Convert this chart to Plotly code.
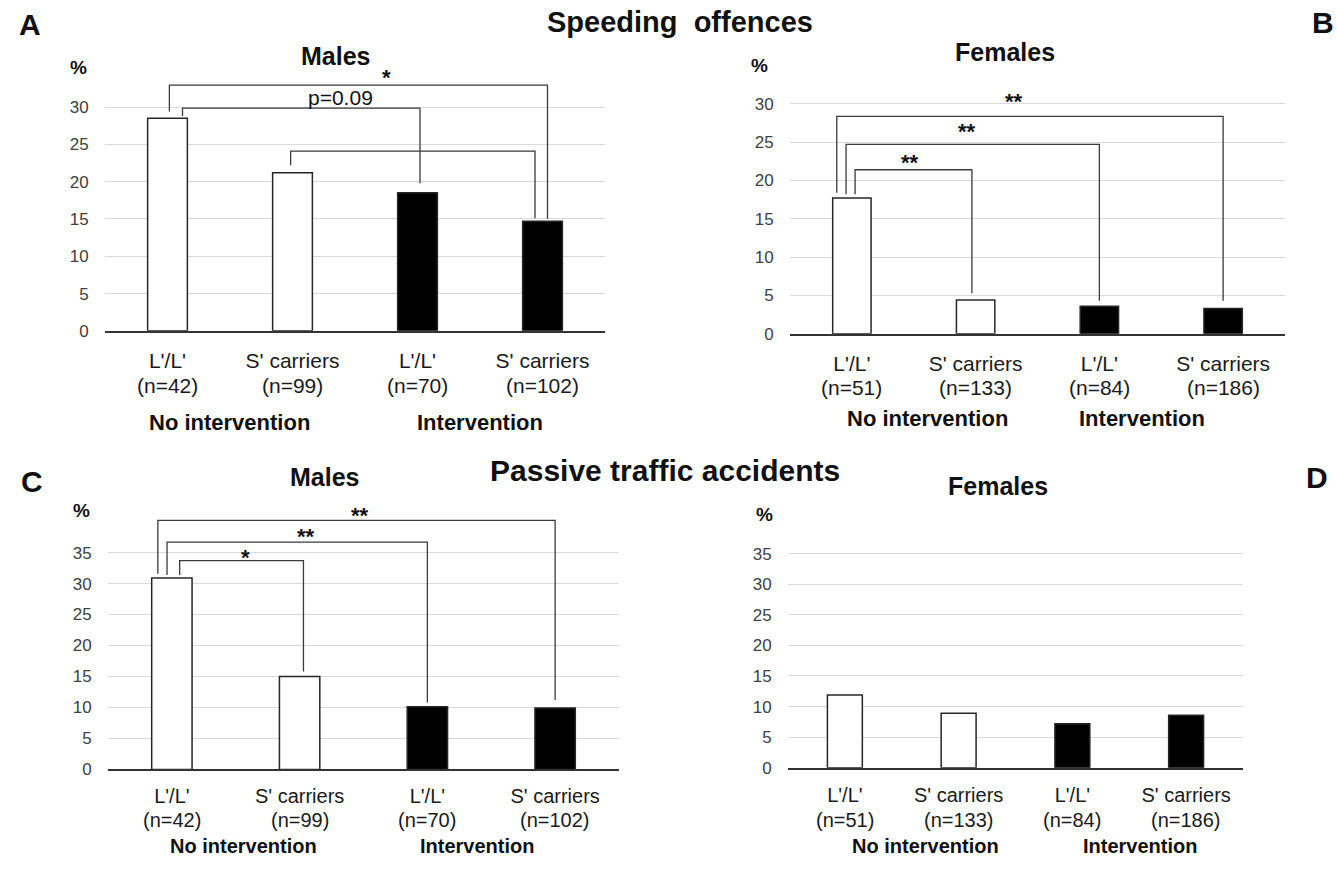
import plotly.graph_objects as go

W, H = 1337, 873

# ---------------- data ----------------
genotypes = ["L'/L'", "S' carriers", "L'/L'", "S' carriers"]
n_males = ["(n=42)", "(n=99)", "(n=70)", "(n=102)"]
n_females = ["(n=51)", "(n=133)", "(n=84)", "(n=186)"]
speeding_males = [28.5, 21.2, 18.5, 14.7]
speeding_females = [17.7, 4.4, 3.6, 3.3]
accidents_males = [30.9, 15.0, 10.1, 9.9]
accidents_females = [11.9, 8.9, 7.2, 8.6]
bar_fill = ["white", "white", "black", "black"]
yticks_speeding = [0, 5, 10, 15, 20, 25, 30]
yticks_accidents = [0, 5, 10, 15, 20, 25, 30, 35]

# significance brackets: (x_left, x_right, top, left_end, right_end, label, label_x, label_y)
brackets_A = [
    (0.015, 3.04, 32.95, 29.4, 15.0, "*", 1.75, 34.0),
    (0.12, 2.02, 29.85, 28.8, 19.8, "p=0.09", 1.38, 31.3),
    (0.985, 2.94, 24.1, 22.2, 15.1, "", 0, 0),
]
brackets_B = [
    (-0.122, 3.0, 28.35, 18.4, 4.3, "**", 1.31, 30.3),
    (-0.047, 2.0, 24.7, 18.2, 4.3, "**", 0.93, 26.4),
    (0.026, 0.97, 21.4, 18.2, 5.3, "**", 0.47, 22.4),
]
brackets_C = [
    (-0.11, 3.0, 40.2, 31.6, 11.2, "**", 1.47, 41.0),
    (-0.038, 2.0, 36.7, 31.4, 10.8, "**", 1.05, 37.6),
    (0.061, 1.03, 33.7, 31.4, 15.8, "*", 0.58, 34.2),
]
brackets_D = []

FONT = "Liberation Sans, Arial, sans-serif"

def fx(px):
    return px / W

def fy(py):
    return 1 - py / H

# panel geometry (pixels): x-range, y of zero, pixels per unit, top value, text sizes
panels = [
    dict(vals=speeding_males, ns=n_males, br=brackets_A, x=(105, 605), y0=334.7, ppu=7.547, top=34.0,
         ticks=yticks_speeding, bw=0.318, nrow=390, tfs=21, tl=10),
    dict(vals=speeding_females, ns=n_females, br=brackets_B, x=(790, 1285), y0=337.7, ppu=7.757, top=34.0,
         ticks=yticks_speeding, bw=0.31, nrow=392, tfs=21, tl=10),
    dict(vals=accidents_males, ns=n_males, br=brackets_C, x=(108, 619), y0=778.3, ppu=6.266, top=41.5,
         ticks=yticks_accidents, bw=0.316, nrow=830, tfs=20, tl=8),
    dict(vals=accidents_females, ns=n_females, br=brackets_D, x=(788, 1243), y0=776.7, ppu=6.191, top=38.0,
         ticks=yticks_accidents, bw=0.307, nrow=829, tfs=20, tl=8),
]

fig = go.Figure()
layout = dict(
    width=W, height=H, margin=dict(l=0, r=0, t=0, b=0),
    paper_bgcolor="white", plot_bgcolor="white", showlegend=False,
    font=dict(family=FONT, color="#262626"),
)
annotations = []

for i, p in enumerate(panels):
    k = "" if i == 0 else str(i + 1)
    xa, ya = "x" + k, "y" + k
    fig.add_trace(go.Bar(
        x=[0, 1, 2, 3], y=p["vals"], width=p["bw"],
        marker=dict(color=bar_fill, line=dict(color="#262626", width=1.5)),
        xaxis=xa, yaxis=ya, hoverinfo="skip",
    ))
    for (xl, xr, top, yl, yr, lab, lx, ly) in p["br"]:
        fig.add_trace(go.Scatter(
            x=[xl, xl, xr, xr], y=[yl, top, top, yr], mode="lines",
            line=dict(color="#3a3a3a", width=1.3), xaxis=xa, yaxis=ya, hoverinfo="skip",
        ))
        if lab:
            bold = lab.startswith("*")
            annotations.append(dict(
                x=lx, y=ly, xref=xa, yref=ya, text=("<b>%s</b>" % lab) if bold else lab,
                showarrow=False, xanchor="center", yanchor="middle",
                font=dict(size=22 if bold else 21, color="#111111", family=FONT),
            ))
    for j, n in enumerate(p["ns"]):
        annotations.append(dict(
            x=j, y=fy(p["nrow"]), xref=xa, yref="paper", text=n, showarrow=False,
            xanchor="center", yanchor="middle", borderpad=0,
            font=dict(size=p["tfs"], color="#1a1a1a", family=FONT),
        ))
    x0, x1 = p["x"]
    ytop_px = p["y0"] - p["top"] * p["ppu"]
    layout["xaxis" + k] = dict(
        domain=[fx(x0), fx(x1)], range=[-0.5, 3.5], anchor=ya,
        tickvals=[0, 1, 2, 3], ticktext=genotypes,
        tickfont=dict(size=p["tfs"], color="#1a1a1a", family=FONT),
        ticks="outside", ticklen=p["tl"], tickcolor="rgba(0,0,0,0)",
        showgrid=False, zeroline=False, showline=True, linecolor="#333333", linewidth=2,
        fixedrange=True,
    )
    layout["yaxis" + k] = dict(
        domain=[fy(p["y0"]), fy(ytop_px)], range=[0, p["top"]], anchor=xa,
        tickvals=p["ticks"], tickfont=dict(size=17, color="#404040", family=FONT),
        ticks="outside", ticklen=12, tickcolor="rgba(0,0,0,0)",
        showgrid=True, gridcolor="#d9d9d9", gridwidth=1, zeroline=False, showline=False,
        fixedrange=True,
    )

def txt(text, x, y, size, bold=True, color="#111111"):
    annotations.append(dict(
        x=fx(x), y=fy(y), xref="paper", yref="paper",
        text=("<b>%s</b>" % text) if bold else text, showarrow=False, borderpad=0,
        xanchor="center", yanchor="middle", font=dict(size=size, color=color, family=FONT),
    ))

# panel letters and titles
txt("A", 30, 25, 30)
txt("B", 1323, 23, 30)
txt("C", 32, 487, 30)
txt("D", 1317, 483, 30)
txt("Speeding\u00a0 offences", 680, 22, 29)
txt("Passive traffic accidents", 665, 476, 30)
txt("Males", 335, 57, 25)
txt("Females", 1005, 53, 25)
txt("Males", 324, 483, 25)
txt("Females", 998, 492, 25)
txt("%", 78, 68, 19)
txt("%", 759, 66, 19)
txt("%", 81, 516, 19)
txt("%", 765, 520, 19)
# group labels
txt("No intervention", 229, 427, 22)
txt("Intervention", 480, 427, 22)
txt("No intervention", 927, 423, 22)
txt("Intervention", 1142, 423, 22)
txt("No intervention", 243, 856, 20)
txt("Intervention", 477, 856, 20)
txt("No intervention", 925, 856, 20)
txt("Intervention", 1140, 856, 20)

layout["annotations"] = annotations
fig.update_layout(**layout)
fig.write_html("out.html")
